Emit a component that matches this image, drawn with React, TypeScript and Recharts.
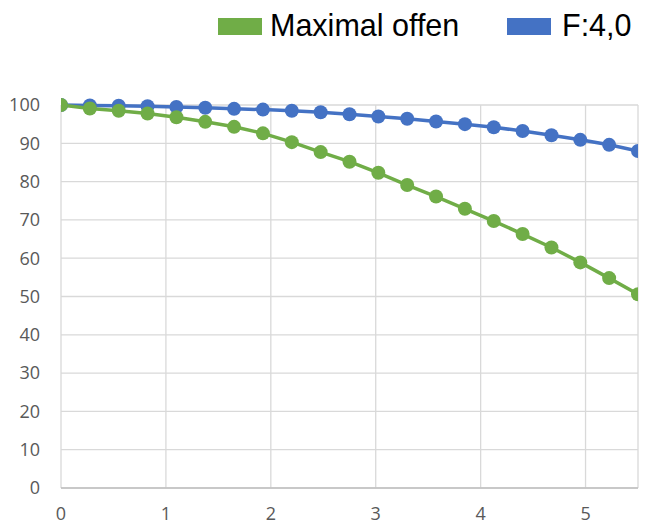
import { LineChart, Line, XAxis, YAxis, CartesianGrid, Legend } from "recharts";

const xValues = [
  0, 0.275, 0.55, 0.825, 1.1, 1.375, 1.65, 1.925, 2.2, 2.475, 2.75,
  3.025, 3.3, 3.575, 3.85, 4.125, 4.4, 4.675, 4.95, 5.225, 5.5
];

const maximalOffen = [
  100, 99.1, 98.5, 97.8, 96.8, 95.6, 94.3, 92.6, 90.3, 87.7, 85.2,
  82.3, 79.1, 76.1, 72.9, 69.7, 66.3, 62.8, 58.9, 54.8, 50.6
];

const f40 = [
  100, 99.9, 99.8, 99.7, 99.5, 99.3, 99.0, 98.8, 98.5, 98.1, 97.6,
  97.0, 96.4, 95.7, 95.0, 94.2, 93.2, 92.1, 90.9, 89.6, 88.0
];

const xTicks = [0, 1, 2, 3, 4, 5];
const yTicks = [0, 10, 20, 30, 40, 50, 60, 70, 80, 90, 100];

const GREEN = "#70AD47";
const BLUE = "#4472C4";

const data = xValues.map((x, i) => ({ x, offen: maximalOffen[i], f: f40[i] }));

// legend drawn by hand so the swatches sit where the original has them
const ChartLegend = () => {
  const item = (left: number, textLeft: number, color: string, label: string) => (
    <>
      <div
        style={{ position: "absolute", left, top: 18, width: 44, height: 17, backgroundColor: color }}
      />
      <div
        style={{
          position: "absolute",
          left: textLeft,
          top: 8,
          fontFamily: "'Liberation Sans', Arial, sans-serif",
          fontSize: 30.5,
          lineHeight: "34px",
          color: "#000",
          whiteSpace: "nowrap"
        }}
      >
        {label}
      </div>
    </>
  );
  return (
    <div style={{ position: "relative", width: 646, height: 50 }}>
      {item(218, 270, GREEN, "Maximal offen")}
      {item(507, 562, BLUE, "F:4,0")}
    </div>
  );
};

export default function App() {
  const tick = { fill: "#595959", fontSize: 18, fontFamily: "'Open Sans', sans-serif" };
  return (
    <div style={{ position: "absolute", left: 0, top: 0, background: "#fff" }}>
      <LineChart
        width={646}
        height={525}
        data={data}
        margin={{ top: 55, right: 8, bottom: 0, left: 0 }}
      >
        <CartesianGrid stroke="#D9D9D9" strokeWidth={1.3} />
        <XAxis
          dataKey="x"
          type="number"
          domain={[0, 5.5]}
          ticks={xTicks}
          tick={tick}
          tickLine={false}
          tickSize={0}
          tickMargin={19}
          axisLine={{ stroke: "#BFBFBF", strokeWidth: 1.3 }}
          height={37}
          allowDataOverflow
        />
        <YAxis
          type="number"
          domain={[0, 100]}
          ticks={yTicks}
          tick={tick}
          tickLine={false}
          tickSize={0}
          tickMargin={21}
          axisLine={false}
          width={61}
        />
        <Legend
          verticalAlign="top"
          content={<ChartLegend />}
          wrapperStyle={{ top: 0, left: 0, width: 646 }}
        />
        <Line
          dataKey="f"
          name="F:4,0"
          stroke={BLUE}
          strokeWidth={3.5}
          dot={{ r: 7, fill: BLUE, stroke: "none" }}
          isAnimationActive={false}
        />
        <Line
          dataKey="offen"
          name="Maximal offen"
          stroke={GREEN}
          strokeWidth={3.5}
          dot={{ r: 7, fill: GREEN, stroke: "none" }}
          isAnimationActive={false}
        />
      </LineChart>
    </div>
  );
}
